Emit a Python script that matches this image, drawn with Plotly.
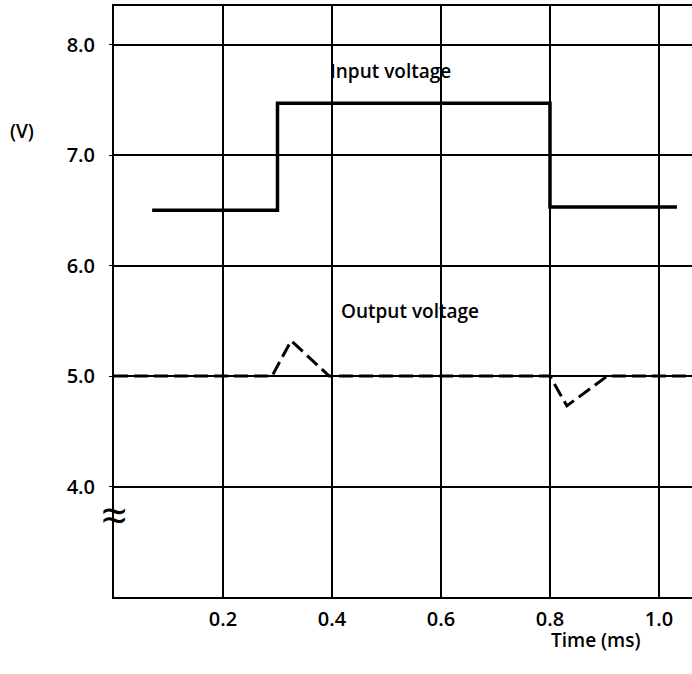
import plotly.graph_objects as go

# Input voltage (step waveform)
time_input = [0.07, 0.30, 0.30, 0.80, 0.80, 1.033]
volt_input = [6.50, 6.50, 7.47, 7.47, 6.53, 6.53]

# Output voltage (regulated, small transients)
time_output = [0.0, 0.29, 0.325, 0.395, 0.80, 0.831, 0.905, 1.07]
volt_output = [5.0, 5.0, 5.32, 5.0, 5.0, 4.73, 5.0, 5.0]

x_ticks = [0.2, 0.4, 0.6, 0.8, 1.0]
x_tick_labels = ["0.2", "0.4", "0.6", "0.8", "1.0"]
y_ticks = [4.0, 5.0, 6.0, 7.0, 8.0]
y_tick_labels = ["4.0", "5.0", "6.0", "7.0", "8.0"]

FONT = "Open Sans"
FS = 19
FT = 20

W, H = 692, 674
L, R, T, B = 114, 0, 6, 77
pw, ph = W - L - R, H - T - B

fig = go.Figure()
fig.add_trace(go.Scatter(x=time_output, y=volt_output, mode="lines",
                         line=dict(color="black", width=3, dash="14px,6px"),
                         hoverinfo="skip", showlegend=False))
fig.add_trace(go.Scatter(x=time_input, y=volt_input, mode="lines",
                         line=dict(color="black", width=3.5),
                         hoverinfo="skip", showlegend=False))

fig.update_layout(
    width=W, height=H,
    margin=dict(l=L, r=R, t=T, b=B),
    paper_bgcolor="white", plot_bgcolor="white",
    font=dict(family=FONT, color="black", size=FS, weight=600),
    xaxis=dict(range=[0, 1.0606], tickvals=x_ticks, ticktext=x_tick_labels,
               showgrid=True, gridcolor="black", gridwidth=1.6,
               showline=True, linecolor="black", linewidth=2, mirror=True,
               ticks="", zeroline=False, ticklabelstandoff=3,
               tickfont=dict(family=FONT, size=FT, color="black", weight=600)),
    yaxis=dict(range=[3.0, 8.35], tickvals=y_ticks, ticktext=y_tick_labels,
               showgrid=True, gridcolor="black", gridwidth=1.6,
               showline=True, linecolor="black", linewidth=2,
               ticks="outside", ticklen=3, tickcolor="black", zeroline=False,
               ticklabelstandoff=10,
               tickfont=dict(family=FONT, size=FT, color="black", weight=600)),
)
fig.add_annotation(x=0.508, y=7.76, xref="x", yref="y", text="Input voltage",
                   showarrow=False, font=dict(size=FS))
fig.add_annotation(x=0.543, y=5.59, xref="x", yref="y", text="Output voltage",
                   showarrow=False, font=dict(size=FS))
fig.add_annotation(x=(595 - L) / pw, y=(H - B - 640) / ph, xref="paper", yref="paper",
                   xanchor="center", yanchor="middle",
                   text="Time (ms)", showarrow=False, font=dict(size=FS))
fig.add_annotation(x=(22 - L) / pw, y=(H - B - 131) / ph, xref="paper", yref="paper",
                   xanchor="center", yanchor="middle",
                   text="(V)", showarrow=False, font=dict(size=FS))
fig.add_annotation(x=0.0, y=3.75, xref="x", yref="y", text="≈",
                   showarrow=False, font=dict(size=46, weight=400))

fig.write_html("out.html", config={"displayModeBar": False},
               post_script="document.body.style.margin='0px';")
